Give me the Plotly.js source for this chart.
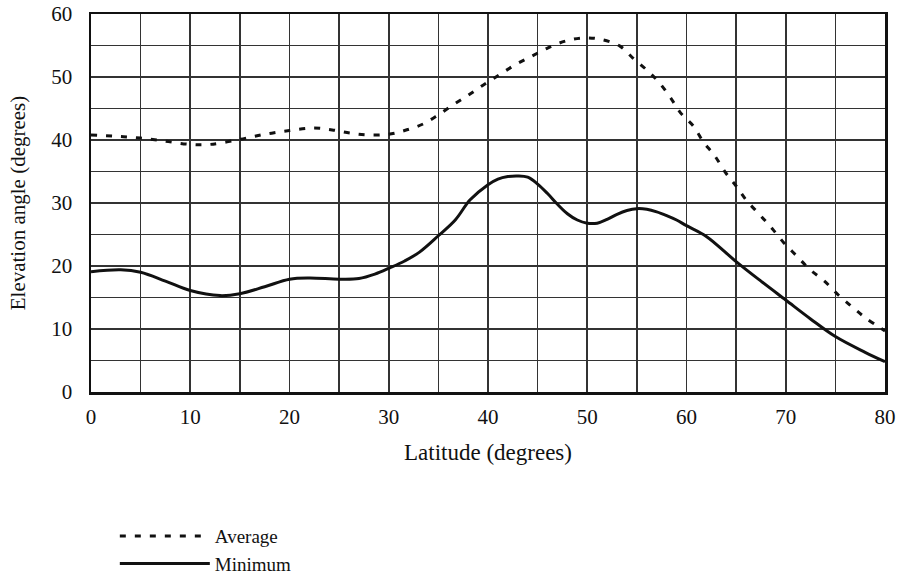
<!DOCTYPE html>
<html><head><meta charset="utf-8">
<script src="https://cdn.plot.ly/plotly-3.0.1.min.js"></script>
<style>body{margin:0;background:#fff}#c{width:897px;height:579px}</style>
</head><body><div id="c"></div>
<script>
const avgLat = [0,2.5,5,7.5,10,12,15,17.5,20,22.4,24.3,26.1,27.9,29.9,31.6,33.4,35,36.5,38,39.5,41.1,42.7,44.4,46,47.8,49.6,51.3,53.3,54.6,56,57.2,58.4,59.4,60.7,61.7,62.8,63.9,65,66,67.4,68.6,69.8,71.1,72.4,73.9,75.3,76.7,78.1,80];
const avgVal = [40.8,40.6,40.3,39.8,39.3,39.3,40.1,40.9,41.5,41.9,41.6,41.1,40.8,40.9,41.5,42.5,44,45.6,47.1,48.7,50.3,51.9,53.3,54.6,55.7,56.2,56,54.9,53,51.1,49.2,46.7,44.3,42.2,39.7,37.6,34.9,32.7,30.5,28.1,26,23.7,21.6,19.5,17.6,15.4,13.5,11.7,9.7];
const minLat = [0,3,5,7.5,10,13,15,17.5,20,22,25,27,28.6,30.1,31.6,33.1,35,36.7,38.2,40,41,42,43,44,45,46,47,48,49,50,51,52,53,54,55,56,57,58,59,60,62,65,67.5,70,72.5,75,78,80];
const minVal = [19.1,19.4,19.0,17.6,16.1,15.3,15.6,16.7,17.9,18.1,17.9,18.0,18.7,19.7,20.8,22.2,24.8,27.3,30.5,32.9,33.8,34.2,34.3,34.1,33.0,31.5,29.8,28.3,27.3,26.8,26.8,27.4,28.2,28.8,29.1,29.0,28.6,28.0,27.3,26.4,24.7,20.7,17.6,14.6,11.6,8.8,6.3,4.8];
const xTicks = [0,10,20,30,40,50,60,70,80];
const yTicks = [0,10,20,30,40,50,60];

const fam = 'Liberation Serif';
const tickFont = {family: fam, color: '#111', size: 21};
const xTitleFont = {family: fam, color: '#111', size: 23};
const yTitleFont = {family: fam, color: '#111', size: 21};
const traces = [
  {x: avgLat, y: avgVal, name: 'Average', mode: 'lines', line: {color: '#111', width: 3, dash: '6px,9px', shape: 'spline', smoothing: 1}},
  {x: minLat, y: minVal, name: 'Minimum', mode: 'lines', line: {color: '#111', width: 3, shape: 'spline', smoothing: 1}}
];
const gridStyle = {gridcolor: '#333', gridwidth: 1.6};
const axisCommon = {
  showline: true, linecolor: '#111', linewidth: 2.5, mirror: true,
  showgrid: true, gridcolor: gridStyle.gridcolor, gridwidth: gridStyle.gridwidth,
  ticks: '', zeroline: false, tickfont: tickFont, automargin: false,
  minor: {dtick: 5, showgrid: true, gridcolor: gridStyle.gridcolor, gridwidth: gridStyle.gridwidth}
};
const layout = {
  width: 897, height: 579,
  margin: {l: 91, r: 12, t: 14, b: 187, autoexpand: false},
  paper_bgcolor: '#fff', plot_bgcolor: '#fff',
  font: tickFont,
  xaxis: Object.assign({}, axisCommon, {range: [0, 80], tickvals: xTicks, ticktext: xTicks.map(String),
    ticklabelstandoff: 4,
    title: {text: 'Latitude (degrees)', font: xTitleFont, standoff: 16}}),
  yaxis: Object.assign({}, axisCommon, {range: [0, 60], tickvals: yTicks, ticktext: yTicks.map(String),
    ticklabelstandoff: 12,
    title: {text: 'Elevation angle (degrees)', font: yTitleFont, standoff: 20}}),
  showlegend: true,
  legend: {x: 0.03, xanchor: 'left', yref: 'container', y: 0.107, yanchor: 'top',
    font: {family: fam, size: 19, color: '#111'},
    bgcolor: 'rgba(0,0,0,0)', tracegroupgap: 0, itemwidth: 90}
};
Plotly.newPlot('c', traces, layout, {displayModeBar: false, staticPlot: true});
</script></body></html>
